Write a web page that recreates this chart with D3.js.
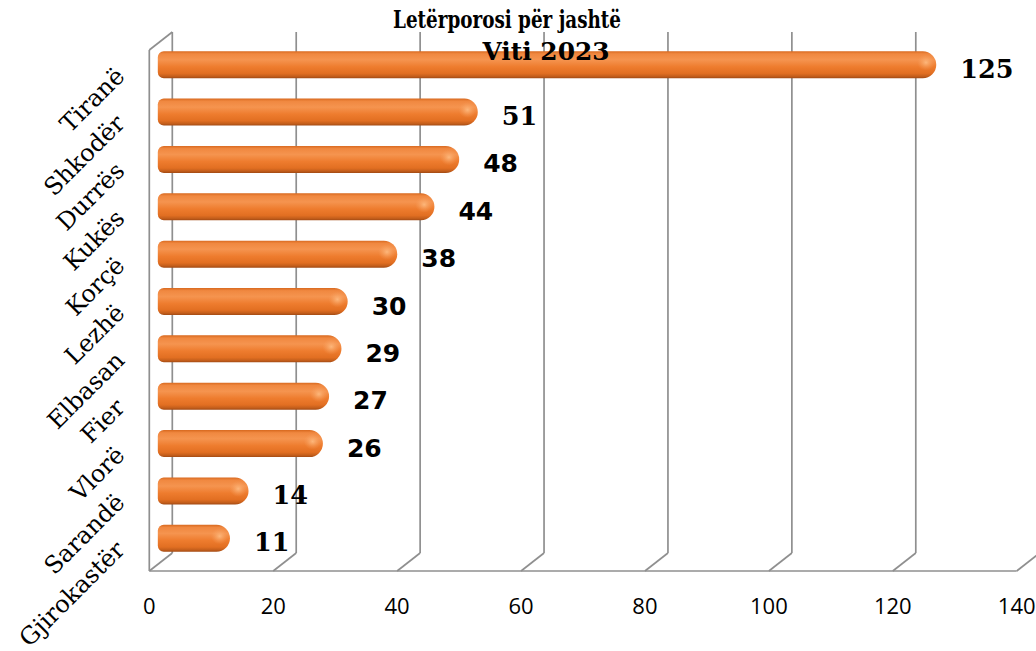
<!DOCTYPE html>
<html>
<head>
<meta charset="utf-8">
<script src="https://cdn.jsdelivr.net/npm/d3@7"></script>
<style>
  html, body { margin: 0; padding: 0; background: #fff; }
  svg { display: block; }
</style>
</head>
<body>
<svg id="chart" width="1036" height="651"></svg>
<script>
// ---- data ----
const categories = ["Tiranë", "Shkodër", "Durrës", "Kukës", "Korçë", "Lezhë", "Elbasan", "Fier", "Vlorë", "Sarandë", "Gjirokastër"];
const values = [125, 51, 48, 44, 38, 30, 29, 27, 26, 14, 11];
const tickValues = [0, 20, 40, 60, 80, 100, 120, 140];
const titleLines = ["Letërporosi për jashtë", "Viti 2023"];

// ---- layout ----
const W = 1036, H = 651;
const svg = d3.select("#chart");

const frontLeft = 149.3, frontRight = 1016.7;   // front plane x for 0 and 140
const frontTop = 50, frontBottom = 571;
const depthX = 23, depthY = -18;                 // offset to back wall

const xFront = d3.scaleLinear().domain([0, 140]).range([frontLeft, frontRight]);
const xBack = v => xFront(v) + depthX;
const xMid = v => xFront(v) + depthX / 2;

const yMid = d3.scaleBand()
  .domain(categories)
  .range([frontTop + depthY / 2, frontBottom + depthY / 2])
  .paddingInner(0.43)
  .paddingOuter(0.215);

const gridColor = "#8f8f8f";

// ---- defs: bar gradient ----
const defs = svg.append("defs");
const lg = defs.append("linearGradient").attr("id", "barGrad")
  .attr("x1", 0).attr("y1", 0).attr("x2", 0).attr("y2", 1);
[
  [0, "#d8691f"], [0.1, "#f08840"], [0.32, "#f5944f"], [0.58, "#ee7c2e"],
  [0.82, "#e26f22"], [0.93, "#c45e1b"], [1, "#a24a14"]
].forEach(([o, c]) => lg.append("stop").attr("offset", o).attr("stop-color", c));

const rg = defs.append("radialGradient").attr("id", "capGrad")
  .attr("cx", 0.5).attr("cy", 0.5).attr("r", 0.5);
rg.append("stop").attr("offset", 0).attr("stop-color", "#ffbf85").attr("stop-opacity", 0.85);
rg.append("stop").attr("offset", 1).attr("stop-color", "#f7a060").attr("stop-opacity", 0);

// ---- grid (3D walls) ----
const grid = svg.append("g").attr("fill", "none").attr("stroke", gridColor).attr("stroke-width", 1.7);

grid.selectAll("line.back")
  .data(tickValues.filter(v => xBack(v) < W))
  .join("line")
  .attr("x1", d => xBack(d)).attr("x2", d => xBack(d))
  .attr("y1", frontTop + depthY).attr("y2", frontBottom + depthY);

grid.selectAll("line.diag")
  .data(tickValues)
  .join("line")
  .attr("x1", d => xFront(d)).attr("y1", frontBottom)
  .attr("x2", d => xBack(d)).attr("y2", frontBottom + depthY);

grid.append("line")
  .attr("x1", xFront(0)).attr("x2", xFront(140))
  .attr("y1", frontBottom).attr("y2", frontBottom);

grid.append("line")
  .attr("x1", xFront(0)).attr("x2", xFront(0))
  .attr("y1", frontTop).attr("y2", frontBottom);
grid.append("line")
  .attr("x1", xFront(0)).attr("y1", frontTop)
  .attr("x2", xBack(0)).attr("y2", frontTop + depthY);

// ---- bars (cylinders) ----
const barH = yMid.bandwidth();
function barPath(x0, x1, y, h) {
  const p = d3.path();
  const r = h / 2, rl = 6;
  p.moveTo(x0 + rl, y);
  p.lineTo(x1 - r, y);
  p.arc(x1 - r, y + r, r, -Math.PI / 2, Math.PI / 2);
  p.lineTo(x0 + rl, y + h);
  p.arcTo(x0, y + h, x0, y + h - rl, rl);
  p.lineTo(x0, y + rl);
  p.arcTo(x0, y, x0 + rl, y, rl);
  p.closePath();
  return p.toString();
}
const bars = svg.append("g");
bars.selectAll("path.bar")
  .data(categories)
  .join("path")
  .attr("d", (d, i) => barPath(xMid(0) - 3, xMid(values[i]) + 1, yMid(d), barH))
  .attr("fill", "url(#barGrad)");

bars.selectAll("ellipse.cap")
  .data(categories)
  .join("ellipse")
  .attr("cx", (d, i) => xMid(values[i]) + 1 - barH * 0.38)
  .attr("cy", d => yMid(d) + barH * 0.42)
  .attr("rx", barH * 0.33).attr("ry", barH * 0.3)
  .attr("fill", "url(#capGrad)");

// ---- data labels ----
const serifLabels = new Set(["Tiranë", "Shkodër", "Sarandë", "Gjirokastër"]);
svg.append("g").selectAll("text")
  .data(categories)
  .join("text")
  .attr("x", (d, i) => xMid(values[i]) + 25)
  .attr("y", d => yMid(d) + barH / 2 + 13)
  .attr("font-family", d => serifLabels.has(d) ? "DejaVu Serif" : "DejaVu Sans")
  .attr("font-weight", "bold")
  .attr("font-size", d => serifLabels.has(d) ? 25.5 : 25)
  .attr("fill", "#000")
  .text((d, i) => values[i]);

// ---- category labels (rotated) ----
svg.append("g").selectAll("text")
  .data(categories)
  .join("text")
  .attr("transform", d => `translate(${126},${yMid(d) + barH / 2 + 13}) rotate(-45)`)
  .attr("text-anchor", "end")
  .attr("font-family", "DejaVu Serif")
  .attr("font-size", 24)
  .attr("fill", "#000")
  .text(d => d);

// ---- x axis tick labels ----
svg.append("g").selectAll("text")
  .data(tickValues)
  .join("text")
  .attr("x", d => xFront(d))
  .attr("y", 614)
  .attr("text-anchor", "middle")
  .attr("font-family", "Open Sans")
  .attr("font-size", 22)
  .attr("fill", "#000")
  .text(d => d);

// ---- title ----
const title = svg.append("g")
  .attr("font-family", "DejaVu Serif")
  .attr("font-weight", "bold")
  .attr("fill", "#000");
title.append("text")
  .attr("x", 507).attr("y", 28)
  .attr("text-anchor", "middle")
  .attr("font-size", 23.5)
  .attr("textLength", 228).attr("lengthAdjust", "spacingAndGlyphs")
  .text(titleLines[0]);
title.append("text")
  .attr("x", 546).attr("y", 60)
  .attr("text-anchor", "middle")
  .attr("font-size", 23.5)
  .attr("textLength", 127).attr("lengthAdjust", "spacingAndGlyphs")
  .text(titleLines[1]);
</script>
</body>
</html>
